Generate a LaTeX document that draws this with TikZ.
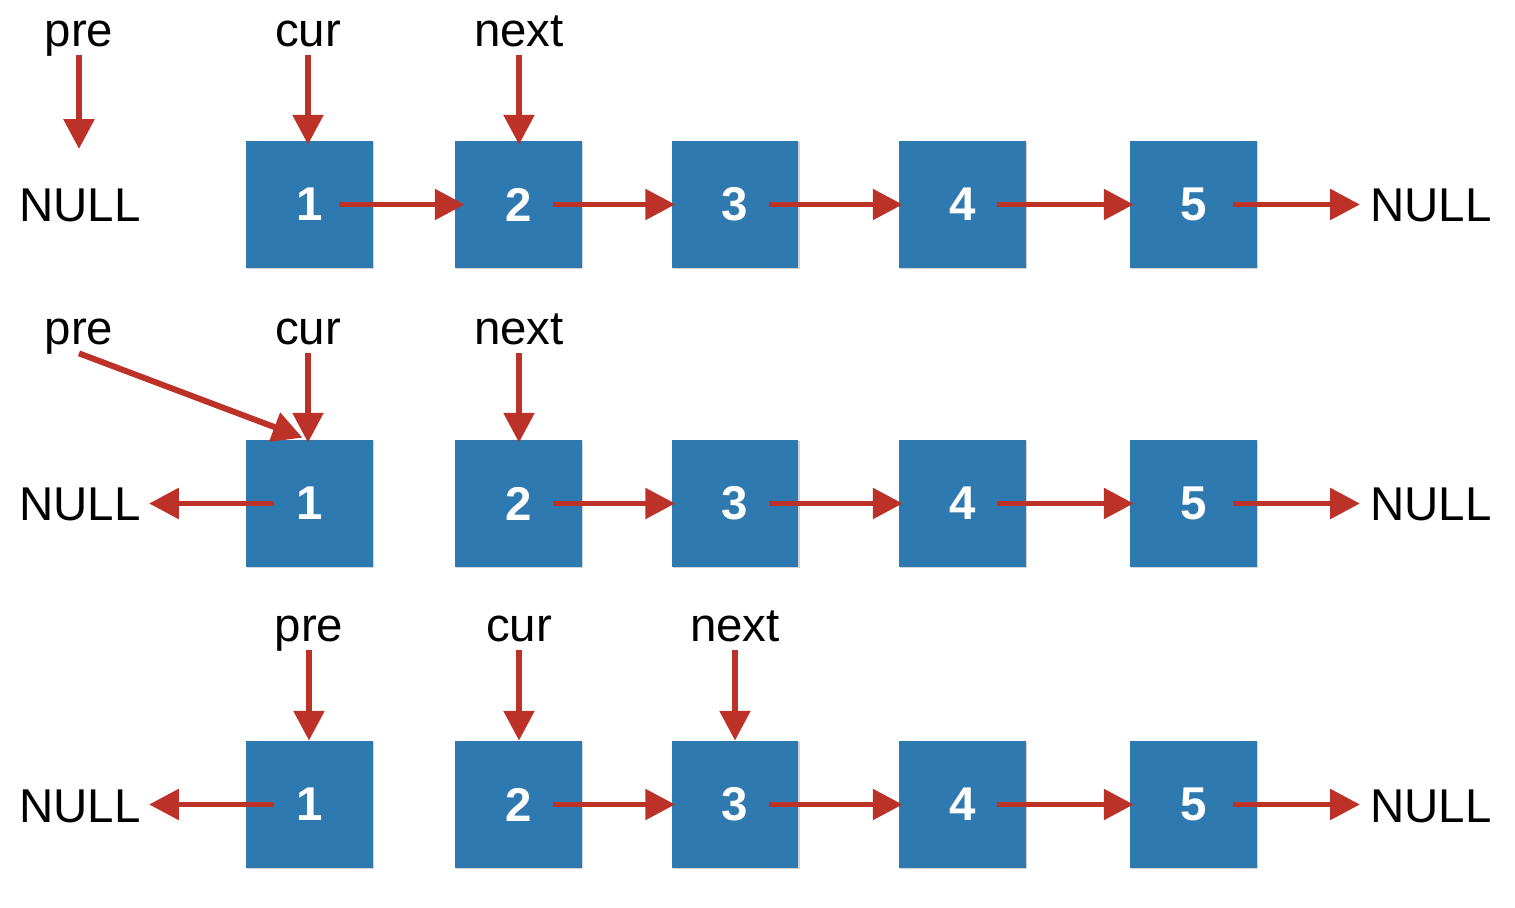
\documentclass[tikz,border=0pt]{standalone}
\usepackage{fontspec}
\setmainfont{Liberation Sans}
\usepackage{xcolor}
\definecolor{boxblue}{RGB}{46,122,176}
\definecolor{ptrred}{RGB}{188,50,40}
\usetikzlibrary{arrows.meta}
\usetikzlibrary{calc}
\usetikzlibrary{shadows}

\begin{document}
\begin{tikzpicture}[x=0.02cm,y=-0.02cm,
    every node/.style={font=\fontsize{27}{32}\selectfont},
    cell/.style={fill=boxblue,minimum size=2.54cm,inner sep=0pt,text=white,
      font=\fontsize{27}{32}\selectfont\bfseries,
      drop shadow={shadow xshift=0.6pt,shadow yshift=-0.8pt,opacity=0.35}},
    nulltext/.style={inner sep=0pt,anchor=base west},
    ptrname/.style={inner sep=0pt,anchor=base,text depth=0.16cm},
    ptr/.style={draw=ptrred,line width=3.4pt,-{Triangle[length=17pt,width=17pt]}}]
      \useasboundingbox (0,0) rectangle (1515,908);
      \foreach \r/\y in {1/204.5,2/503.5,3/804.5}{
        \foreach \i/\x in {1/309.5,2/518.5,3/735,4/962.5,5/1193.5}
          \node[cell] (b\r-\i) at (\x,\y) {\i};
      }
      \foreach \r/\y in {1/222,2/521,3/822}{
        \node[nulltext] (nl\r) at (19,\y) {NULL};
        \node[nulltext] (nr\r) at (1370,\y) {NULL};
        \draw[ptr,shorten >=0.2cm] (b\r-5.center) ++(39,0) -- (nr\r.west |- b\r-5.center);
        \foreach \i/\j in {2/3,3/4,4/5}
          \draw[ptr] (b\r-\i.center) ++(34,0) -- ($(b\r-\j.west)+(4,0)$);
      }
      \draw[ptr] (b1-1.center) ++(29,0) -- ($(b1-2.west)+(10,0)$);
      \foreach \r in {2,3}
        \draw[ptr,shorten >=0.16cm] (b\r-1.center) ++(-36,0) -- (nl\r.east |- b\r-1.center);

      \node[ptrname] (pre1) at (79,47) {pre};
      \node[ptrname] (cur1) at (308,47) {cur};
      \node[ptrname] (next1) at (519,47) {next};
      \draw[ptr,shorten >=0.8cm] (pre1.south) -- (pre1.south |- nl1.north);
      \draw[ptr,shorten >=-0.08cm] (cur1.south) -- (cur1.south |- b1-1.north);
      \draw[ptr,shorten >=-0.08cm] (next1.south) -- (next1.south |- b1-2.north);

      \node[ptrname] (pre2) at (79,345) {pre};
      \node[ptrname] (cur2) at (308,345) {cur};
      \node[ptrname] (next2) at (519,345) {next};
      \draw[ptr] (pre2.south) -- ($(b2-1.north)+(-7,-2)$);
      \draw[ptr,shorten >=-0.06cm] (cur2.south) -- (cur2.south |- b2-1.north);
      \draw[ptr,shorten >=-0.06cm] (next2.south) -- (next2.south |- b2-2.north);

      \node[ptrname] (pre3) at (309,642) {pre};
      \node[ptrname] (cur3) at (519,642) {cur};
      \node[ptrname] (next3) at (735,642) {next};
      \draw[ptr] (pre3.south) -- (pre3.south |- b3-1.north);
      \draw[ptr] (cur3.south) -- (cur3.south |- b3-2.north);
      \draw[ptr] (next3.south) -- (next3.south |- b3-3.north);
    \end{tikzpicture}
\end{document}
